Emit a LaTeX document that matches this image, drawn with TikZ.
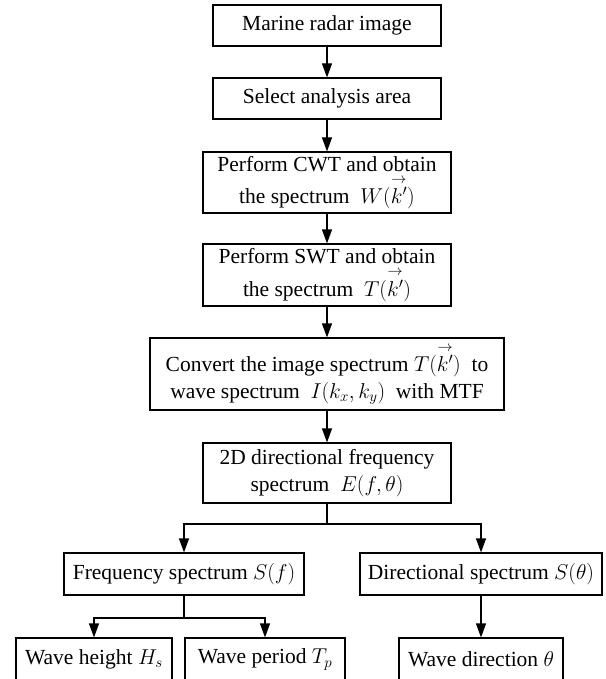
\documentclass[tikz,border=0pt]{standalone}
\usepackage{fix-cm}
\usepackage{amsmath}
\usepackage{fontspec}
\setmainfont{Liberation Serif}
\usetikzlibrary{arrows.meta}
\newcommand{\kvec}{\overset{\rightarrow}{k'}}
\begin{document}
\begin{tikzpicture}[x=1pt,y=-1pt,
  box/.style={draw,line width=1.2pt,inner sep=0pt,align=center,
    font=\fontsize{21.5}{27}\selectfont},
  arr/.style={line width=1.2pt,-{Triangle[length=14pt,width=10pt]}},
  ln/.style={line width=1.2pt}]
\useasboundingbox (0,0) rectangle (605,679);
\node[box,minimum width=228pt,minimum height=41pt] (b1) at (327,25.5) {Marine radar image};
\node[box,minimum width=228pt,minimum height=41pt] (b2) at (327,98.5) {Select analysis area};
\node[box,minimum width=248pt,minimum height=61pt] (b3) at (327,182.5) {Perform CWT and obtain\\[3pt]the spectrum \ $W(\kvec)$};
\node[box,minimum width=248pt,minimum height=62pt] (b4) at (327,275) {Perform SWT and obtain\\[3pt]the spectrum \ $T(\kvec)$};
\node[box,minimum width=354pt,minimum height=72pt] (b5) at (327,374) {Convert the image spectrum $T(\kvec)$ \ to\\wave spectrum \ $I(k_x,k_y)$ \ with MTF};
\node[box,minimum width=248pt,minimum height=60pt] (b6) at (327,473) {2D directional frequency\\spectrum \ $E(f,\theta)$};
\node[box,minimum width=240pt,minimum height=42pt] (fs) at (184,574) {Frequency spectrum $S(f)$};
\node[box,minimum width=242pt,minimum height=42pt] (ds) at (481,574) {Directional spectrum $S(\theta)$};
\node[box,minimum width=156pt,minimum height=43pt] (wh) at (94,659.5) {Wave height $H_s$};
\node[box,minimum width=160pt,minimum height=43pt] (wp) at (265,659.5) {Wave period $T_p$};
\node[box,minimum width=164pt,minimum height=43pt] (wd) at (481,659.5) {Wave direction $\theta$};
\coordinate (j1) at (327,524);
\coordinate (j2) at (184,618);
\draw[arr] (b1) -- (b2);
\draw[arr] (b2) -- (b3);
\draw[arr] (b3) -- (b4);
\draw[arr] (b4) -- (b5);
\draw[arr] (b5) -- (b6);
\draw[ln] (b6.south) -- (j1);
\draw[arr] (j1) -| (fs.north);
\draw[arr] (j1) -| (ds.north);
\draw[ln] (fs.south) -- (j2);
\draw[arr] (j2) -| (wh.north);
\draw[arr] (j2) -| (wp.north);
\draw[arr] (ds) -- (wd);
\end{tikzpicture}
\end{document}
